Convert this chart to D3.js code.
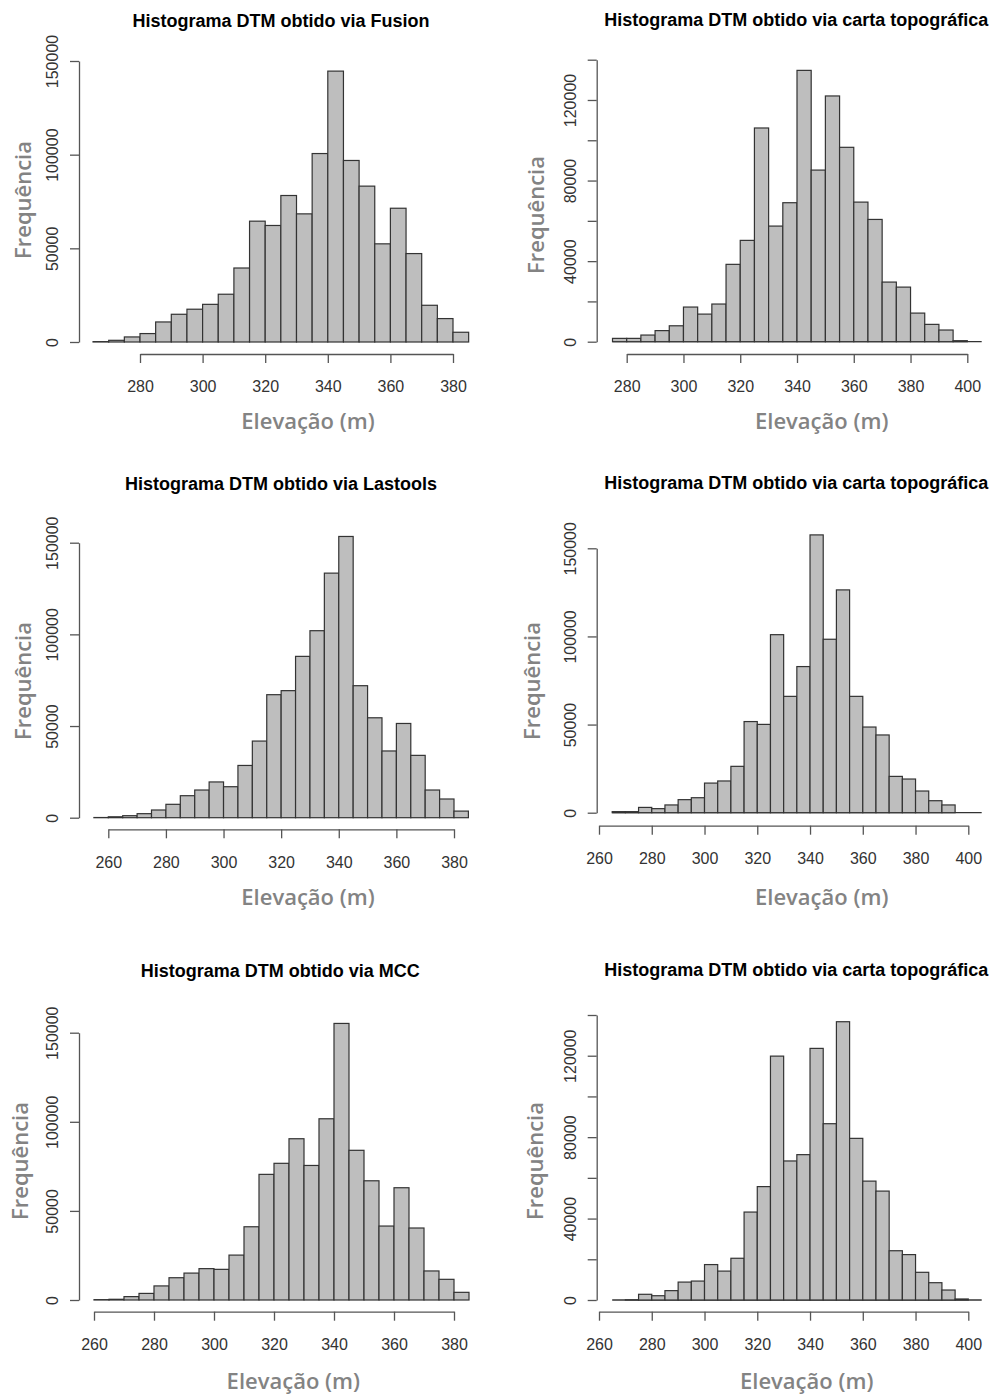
<!DOCTYPE html>
<html>
<head>
<meta charset="utf-8">
<script src="https://cdn.jsdelivr.net/npm/d3@7"></script>
<style>
  body { margin: 0; background: #fff; }
  .tick text { font-family: "Liberation Sans", Arial, sans-serif; font-size: 16px; fill: #333; }
  .title { font-family: "Liberation Sans", Arial, sans-serif; font-weight: bold; font-size: 18px; fill: #000; }
  .lab { font-family: "Open Sans", sans-serif; font-weight: 600; font-size: 22px; fill: #838383; }
</style>
</head>
<body>
<svg id="chart" width="991" height="1396"></svg>
<script>
// bin width of every histogram (m)
const binWidth = 5;

// Fusion
const fusionStart = 265;
const fusionCounts = [200, 900, 2700, 4500, 10700, 14800, 17500, 20100, 25500, 39500, 64500, 62200,
  78200, 68400, 100600, 144600, 96900, 83200, 52400, 71400, 47200, 19600, 12500, 5200];

// carta topográfica (top)
const cartaTopStart = 275;
const cartaTopCounts = [1650, 1650, 3300, 5500, 7900, 17200, 13700, 18700, 38400, 50300, 106100, 57400,
  69000, 134700, 85200, 122000, 96500, 69300, 60700, 29600, 27100, 14200, 8600, 5800, 500];

// Lastools
const lastoolsStart = 255;
const lastoolsCounts = [100, 500, 1100, 2200, 4200, 7300, 12000, 15100, 19500, 16900, 28500, 41800,
  67100, 69300, 88000, 102000, 133400, 153400, 72000, 54500, 36400, 51400, 34000, 15100, 10200, 3600];

// carta topográfica (middle)
const cartaMidStart = 265;
const cartaMidCounts = [600, 600, 3000, 2300, 4400, 7400, 8500, 16800, 18000, 26300, 51700, 50100,
  101000, 66000, 82900, 157600, 98400, 126400, 66000, 48600, 44100, 20600, 19100, 12300, 6800, 4400];

// MCC
const mccStart = 260;
const mccCounts = [200, 400, 1900, 3700, 7900, 12500, 15100, 17600, 17200, 25200, 41100, 70500,
  76700, 90500, 75500, 101700, 155200, 84000, 66900, 41500, 63000, 40400, 16300, 11600, 4300];

// carta topográfica (bottom)
const cartaBotStart = 265;
const cartaBotCounts = [0, 100, 2800, 2100, 4600, 8800, 9300, 17400, 14200, 20500, 43200, 55700,
  119800, 68300, 71400, 123600, 86600, 136700, 79400, 58400, 53500, 24200, 22300, 13600, 8500, 4900, 500];

// tick values / labels
const yTicksA = [0, 50000, 100000, 150000];
const yLabelsA = [0, 50000, 100000, 150000];
const yTicksB = [0, 20000, 40000, 60000, 80000, 100000, 120000, 140000];
const yLabelsB = [0, 40000, 80000, 120000];
const xTicks280_380 = [280, 300, 320, 340, 360, 380];
const xTicks280_400 = [280, 300, 320, 340, 360, 380, 400];
const xTicks260_380 = [260, 280, 300, 320, 340, 360, 380];
const xTicks260_400 = [260, 280, 300, 320, 340, 360, 380, 400];

const titles = [
  "Histograma DTM obtido via Fusion",
  "Histograma DTM obtido via carta topográfica",
  "Histograma DTM obtido via Lastools",
  "Histograma DTM obtido via carta topográfica",
  "Histograma DTM obtido via MCC",
  "Histograma DTM obtido via carta topográfica"
];
const xLabel = "Elevação (m)";
const yLabel = "Frequência";

// layout of each panel (pixels)
const panels = [
  { start: fusionStart, counts: fusionCounts, xTicks: xTicks280_380, yTicks: yTicksA, yLabels: yLabelsA,
    xPx: [140, 453], yPx: [342, 61], axX: 79, axY: 354, baseEnd: null,
    title: [281, 26.5], xl: [308, 428.5], yl: [30.5, 200] },
  { start: cartaTopStart, counts: cartaTopCounts, xTicks: xTicks280_400, yTicks: yTicksB, yLabels: yLabelsB,
    xPx: [626.7, 967.3], yPx: [341.7, 59.7], axX: 596.7, axY: 354, baseEnd: 981.7,
    title: [796.3, 26], xl: [821.7, 428.5], yl: [544, 215] },
  { start: lastoolsStart, counts: lastoolsCounts, xTicks: xTicks260_380, yTicks: yTicksA, yLabels: yLabelsA,
    xPx: [108.3, 454], yPx: [817.7, 542.7], axX: 79, axY: 829.3, baseEnd: null,
    title: [281, 490], xl: [308, 905], yl: [30.5, 681] },
  { start: cartaMidStart, counts: cartaMidCounts, xTicks: xTicks260_400, yTicks: yTicksA, yLabels: yLabelsA,
    xPx: [599, 968.3], yPx: [812.7, 548.3], axX: 596.7, axY: 825.7, baseEnd: 981.7,
    title: [796.3, 489.3], xl: [821.7, 905], yl: [540, 681] },
  { start: mccStart, counts: mccCounts, xTicks: xTicks260_380, yTicks: yTicksA, yLabels: yLabelsA,
    xPx: [94, 454], yPx: [1300, 1032.7], axX: 79, axY: 1311.7, baseEnd: null,
    title: [280.3, 976.7], xl: [293.3, 1388.5], yl: [27.5, 1161] },
  { start: cartaBotStart, counts: cartaBotCounts, xTicks: xTicks260_400, yTicks: yTicksB, yLabels: yLabelsB,
    xPx: [599, 968.3], yPx: [1300, 1015], axX: 596.7, axY: 1311.7, baseEnd: 981.7,
    title: [796.3, 976], xl: [806.7, 1388.5], yl: [543.3, 1161] }
];

const svg = d3.select("#chart");
svg.append("rect").attr("width", 991).attr("height", 1396).attr("fill", "#fff");

panels.forEach((p, k) => {
  const g = svg.append("g");
  const xs = p.xTicks;
  const x = d3.scaleLinear().domain([xs[0], xs[xs.length - 1]]).range(p.xPx);
  const y = d3.scaleLinear().domain([0, p.yTicks[p.yTicks.length - 1]]).range(p.yPx);

  const bins = p.counts.map((c, i) => ({ x0: p.start + i * binWidth, x1: p.start + (i + 1) * binWidth, c }));

  // baseline running past the bars (right column)
  if (p.baseEnd) {
    g.append("line")
      .attr("x1", x(bins[0].x0)).attr("x2", p.baseEnd)
      .attr("y1", y(0)).attr("y2", y(0))
      .attr("stroke", "#333").attr("stroke-width", 1.3);
  }

  g.selectAll("rect.bar")
    .data(bins)
    .enter()
    .append("rect")
    .attr("class", "bar")
    .attr("x", d => x(d.x0))
    .attr("y", d => y(d.c))
    .attr("width", d => x(d.x1) - x(d.x0))
    .attr("height", d => y(0) - y(d.c))
    .attr("fill", "#bebebe")
    .attr("stroke", "#333")
    .attr("stroke-width", 1.2);

  // y axis
  const ya = g.append("g")
    .attr("transform", "translate(" + p.axX + ",0)")
    .call(d3.axisLeft(y).tickValues(p.yTicks).tickSize(9).tickSizeOuter(0)
      .tickFormat(d => p.yLabels.includes(d) ? d : ""));
  ya.selectAll("text")
    .attr("transform", "rotate(-90)")
    .attr("x", 0).attr("y", -21).attr("dy", 0)
    .style("text-anchor", "middle");

  // x axis
  g.append("g")
    .attr("transform", "translate(0," + p.axY + ")")
    .call(d3.axisBottom(x).tickValues(xs).tickSize(9).tickSizeOuter(0).tickPadding(18).tickFormat(d => d));

  g.selectAll(".domain, .tick line").attr("stroke", "#555").attr("stroke-width", 1.3);

  g.append("text").attr("class", "title")
    .attr("x", p.title[0]).attr("y", p.title[1])
    .attr("text-anchor", "middle").text(titles[k]);

  g.append("text").attr("class", "lab")
    .attr("x", p.xl[0]).attr("y", p.xl[1])
    .attr("text-anchor", "middle").text(xLabel);

  g.append("text").attr("class", "lab")
    .attr("transform", "translate(" + p.yl[0] + "," + p.yl[1] + ") rotate(-90)")
    .attr("text-anchor", "middle").text(yLabel);
});
</script>
</body>
</html>
